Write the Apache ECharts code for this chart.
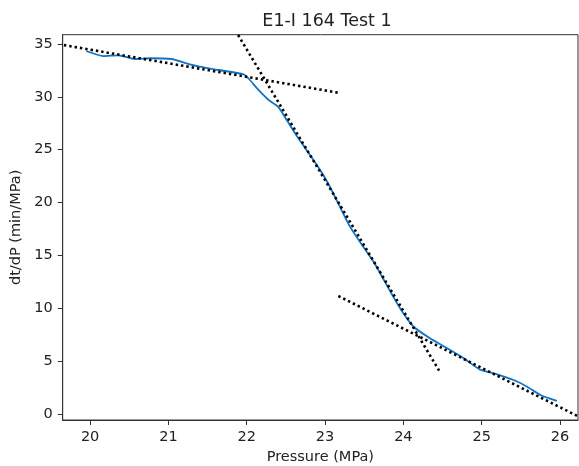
<!DOCTYPE html>
<html>
<head>
<meta charset="utf-8">
<script src="https://cdn.jsdelivr.net/npm/echarts@6/dist/echarts.min.js"></script>
<style>html,body{margin:0;padding:0;background:#fff}#c{width:579px;height:466px}</style>
</head>
<body>
<div id="c"></div>
<script>
// measured curve
const pressure = [19.95, 20.17, 20.36, 20.57, 20.77, 21.04, 21.23, 21.40, 21.64, 21.96, 22.02, 22.15, 22.28, 22.40, 22.51, 22.66, 22.90, 23.04, 23.19, 23.32, 23.49, 23.62, 23.72, 23.87, 24.00, 24.13, 24.34, 24.56, 24.77, 24.98, 25.19, 25.41, 25.58, 25.75, 25.96];
const dtdp = [34.34, 33.86, 33.93, 33.58, 33.65, 33.58, 33.17, 32.85, 32.54, 32.13, 31.76, 30.65, 29.70, 29.07, 27.81, 26.08, 23.50, 21.80, 19.60, 17.70, 15.80, 14.40, 13.10, 11.10, 9.52, 8.25, 7.16, 6.21, 5.27, 4.20, 3.78, 3.21, 2.58, 1.79, 1.23];
// tangent lines (endpoints)
const fit1X = [19.53, 23.17], fit1Y = [35.07, 30.39];
const fit2X = [21.89, 24.46], fit2Y = [35.85, 4.06];
const fit3X = [23.17, 26.30], fit3Y = [11.16, -0.48];
const xTicks = [20, 21, 22, 23, 24, 25, 26];
const yTicks = [0, 5, 10, 15, 20, 25, 30, 35];

const zip = (a, b) => a.map((v, i) => [v, b[i]]);
const txt = '#222';
const font = 'DejaVu Sans';
const dotted = { color: '#000', width: 2.6, type: [2.4, 3], cap: 'butt' };

const chart = echarts.init(document.getElementById('c'));
chart.setOption({
  animation: false,
  backgroundColor: '#fff',
  title: {
    text: 'E1-I 164 Test 1', left: 322, top: 7, textAlign: 'center',
    textStyle: { fontFamily: font, fontSize: 17.5, fontWeight: 'normal', color: txt }
  },
  grid: { left: 62.7, top: 34.7, right: 1, bottom: 46, outerBoundsMode: 'none', containLabel: false,
          show: true, borderColor: '#333', borderWidth: 1, backgroundColor: 'transparent' },
  xAxis: {
    type: 'value', min: 19.65, max: 26.23,
    name: 'Pressure (MPa)', nameLocation: 'middle', nameGap: 30,
    nameTextStyle: { fontFamily: font, fontSize: 14.5, color: txt },
    axisLine: { show: true, onZero: false, lineStyle: { color: '#333', width: 1 } },
    axisTick: { show: true, length: 5, lineStyle: { color: '#333' }, customValues: xTicks },
    axisLabel: { fontFamily: font, fontSize: 14.5, color: txt, margin: 10, customValues: xTicks },
    splitLine: { show: false }
  },
  yAxis: {
    type: 'value', min: -0.57, max: 35.88,
    name: 'dt/dP (min/MPa)', nameLocation: 'middle', nameGap: 33, nameRotate: 90,
    nameTextStyle: { fontFamily: font, fontSize: 14.5, color: txt },
    axisLine: { show: true, onZero: false, lineStyle: { color: '#333', width: 1 } },
    axisTick: { show: true, length: 5, lineStyle: { color: '#333' }, customValues: yTicks },
    axisLabel: { fontFamily: font, fontSize: 14.5, color: txt, margin: 10, customValues: yTicks },
    splitLine: { show: false }
  },
  series: [
    { type: 'line', data: zip(pressure, dtdp), showSymbol: false, smooth: 0.2,
      lineStyle: { color: '#1272c4', width: 1.8 }, z: 2 },
    { type: 'line', data: zip(fit1X, fit1Y), showSymbol: false, clip: false, lineStyle: dotted, z: 3 },
    { type: 'line', data: zip(fit2X, fit2Y), showSymbol: false, lineStyle: dotted, z: 3 },
    { type: 'line', data: zip(fit3X, fit3Y), showSymbol: false, lineStyle: dotted, z: 3 }
  ]
});
</script>
</body>
</html>
